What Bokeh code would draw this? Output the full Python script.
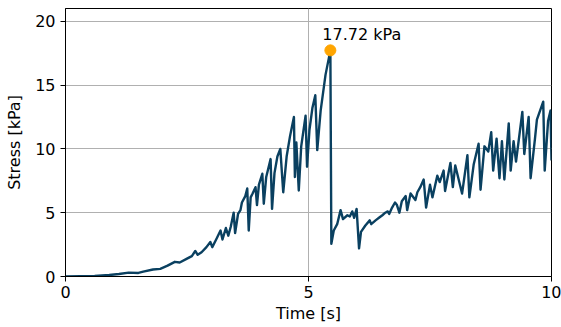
from bokeh.plotting import figure
from bokeh.models import FixedTicker, Range1d
from bokeh.embed import file_html
from bokeh.resources import INLINE
from bokeh.core.properties import value

time_s = [0, 0.3, 0.6, 0.9, 1.1, 1.3, 1.5, 1.6, 1.8, 1.95, 2.1, 2.25, 2.35, 2.5, 2.6, 2.67,
          2.72, 2.8, 2.9, 2.98, 3.02, 3.1, 3.19, 3.23, 3.3, 3.35, 3.4,
          3.46, 3.49, 3.55, 3.6, 3.63, 3.7, 3.74, 3.77, 3.81, 3.85, 3.91, 3.94, 3.98, 4.05,
          4.08, 4.13, 4.22, 4.25, 4.3, 4.36, 4.42, 4.48, 4.55, 4.62, 4.7, 4.72, 4.75, 4.8,
          4.85, 4.94, 4.97, 5.02, 5.08, 5.14, 5.18, 5.25, 5.35, 5.45,
          5.47, 5.52, 5.59, 5.66, 5.71, 5.8, 5.85, 5.9, 5.94, 5.99, 6.04, 6.08, 6.17, 6.26,
          6.29, 6.38, 6.45, 6.52, 6.58, 6.63, 6.66, 6.72, 6.78, 6.82, 6.87, 6.92, 7.0, 7.03,
          7.1, 7.2, 7.24, 7.3, 7.37, 7.42, 7.5, 7.55, 7.65, 7.7, 7.78, 7.81, 7.92, 7.97, 8.02,
          8.16, 8.27, 8.31, 8.4, 8.5, 8.54, 8.62, 8.7, 8.76, 8.8, 8.87, 8.93, 8.98, 9.03,
          9.12, 9.16, 9.22, 9.27, 9.4, 9.44, 9.53, 9.57, 9.66, 9.7, 9.83, 9.86, 9.93, 9.98, 10.0]
stress_kpa = [0, 0.02, 0.05, 0.12, 0.2, 0.3, 0.28, 0.38, 0.55, 0.6, 0.85, 1.15, 1.1, 1.4, 1.6, 2.0,
              1.7, 1.9, 2.3, 2.7, 2.3, 2.9, 3.6, 2.9, 3.8, 3.2, 3.9,
              5.0, 3.4, 4.9, 5.2, 5.8, 6.3, 6.9, 3.6, 6.2, 6.5, 7.0, 5.6, 7.2, 8.05,
              5.7, 7.8, 9.2, 5.3, 8.1, 9.4, 10.0, 6.6, 9.4, 11.0, 12.5, 7.8, 10.5, 6.74,
              10.2, 12.6, 8.6, 11.5, 13.2, 14.2, 9.9, 13.0, 15.8, 17.72,
              2.56, 3.6, 4.1, 5.2, 4.5, 4.8, 4.7, 5.1, 4.6, 5.3, 2.2, 3.5, 4.0, 4.4,
              4.1, 4.4, 4.6, 4.8, 5.0, 5.1, 4.9, 5.4, 5.8, 5.6, 5.0, 5.9, 6.3, 5.2,
              6.5, 6.0, 6.6, 7.0, 7.6, 5.4, 7.2, 6.2, 7.9, 7.4, 8.3, 6.7, 8.9, 7.0, 8.7,
              6.5, 9.5, 6.2, 8.8, 10.4, 6.8, 10.2, 9.8, 11.3, 8.3, 10.8, 7.7, 10.6, 7.6,
              12.0, 8.3, 10.6, 9.0, 12.9, 9.6, 12.5, 7.7, 10.8, 12.3, 13.7, 8.3, 12.2, 13.0, 9.1]

peak_time = [5.45]
peak_stress = [17.72]
peak_label = ["17.72 kPa"]
x_ticks = [0, 5, 10]
y_ticks = [0, 5, 10, 15, 20]

FONT = "DejaVu Sans"
FS = "16px"

p = figure(width=561, height=327, output_backend="svg", toolbar_location=None,
           x_range=Range1d(0, 10), y_range=Range1d(0, 21),
           min_border_left=65, min_border_right=10, min_border_top=8, min_border_bottom=51)

p.outline_line_color = "black"
p.outline_line_width = 1
p.outline_line_alpha = 1

for ax in (p.xaxis[0], p.yaxis[0]):
    ax.axis_line_color = "black"
    ax.major_tick_line_color = "black"
    ax.major_tick_out = 5
    ax.major_tick_in = 0
    ax.minor_tick_line_color = None
    ax.major_label_text_font = FONT
    ax.major_label_text_font_size = FS
    ax.major_label_text_color = "black"
    ax.axis_label_text_font = FONT
    ax.axis_label_text_font_size = FS
    ax.axis_label_text_font_style = "normal"
    ax.axis_label_text_color = "black"

p.xaxis.ticker = FixedTicker(ticks=x_ticks)
p.yaxis.ticker = FixedTicker(ticks=y_ticks)
p.xaxis.axis_label = "Time [s]"
p.yaxis.axis_label = "Stress [kPa]"
p.xaxis.major_label_standoff = 4
p.yaxis.major_label_standoff = 5
p.xaxis.axis_label_standoff = 3
p.yaxis.axis_label_standoff = 8

p.xgrid.grid_line_color = "#b0b0b0"
p.ygrid.grid_line_color = "#b0b0b0"
p.xgrid.grid_line_width = 1
p.ygrid.grid_line_width = 1

p.line(time_s, stress_kpa, line_color="#0a4060", line_width=2.4, line_join="round")
p.scatter(peak_time, peak_stress, size=11, color="orange", line_color="orange")
p.text(peak_time, peak_stress, text=peak_label, text_font=value(FONT), text_font_size=FS,
       text_color="black", text_baseline="bottom", text_align="left", x_offset=-8, y_offset=-6)

open("out.html", "w").write(file_html(p, INLINE))
